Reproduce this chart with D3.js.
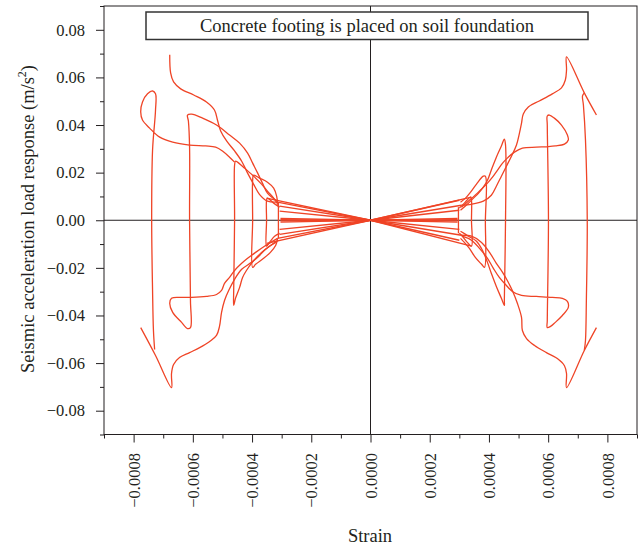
<!DOCTYPE html>
<html><head><meta charset="utf-8">
<script src="https://cdn.jsdelivr.net/npm/d3@7"></script>
<style>
body{margin:0;background:#fff}
svg text{font-family:"Liberation Serif","Times New Roman",serif;fill:#231f20}
</style>
</head><body>
<svg id="c" width="639" height="545"></svg>
<script>
// ---- ticks ----
const xTicks = [-0.0008,-0.0006,-0.0004,-0.0002,0,0.0002,0.0004,0.0006,0.0008];
const xTickLabels = ["\u22120.0008","\u22120.0006","\u22120.0004","\u22120.0002","0.0000","0.0002","0.0004","0.0006","0.0008"];
const xMinor = [-0.0009,-0.0007,-0.0005,-0.0003,-0.0001,0.0001,0.0003,0.0005,0.0007,0.0009];
const yTicks = [0.08,0.06,0.04,0.02,0,-0.02,-0.04,-0.06,-0.08];
const yTickLabels = ["0.08","0.06","0.04","0.02","0.00","\u22120.02","\u22120.04","\u22120.06","\u22120.08"];
const yMinor = [0.09,0.07,0.05,0.03,0.01,-0.01,-0.03,-0.05,-0.07,-0.09];

// ---- data: [strain, acceleration] ----
const leftFree = [[-0.000678,0.0695],[-0.000675,0.0619],[-0.000665,0.0581],[-0.000641,0.0552],[-0.000597,0.0526],[-0.000554,0.0497],[-0.000527,0.0463],[-0.000516,0.0417],[-0.000506,0.0375],[-0.000486,0.0333],[-0.000459,0.0291],[-0.000435,0.0248],[-0.000415,0.0198],[-0.000395,0.0152],[-0.000375,0.0109],[-0.000348,0.0080],[-0.000314,0.0076]];
const leftOuterTop = [[-0.000459,0.0244],[-0.000476,0.0265],[-0.000500,0.0291],[-0.000523,0.0307],[-0.000557,0.0312],[-0.000611,0.0316],[-0.000668,0.0328],[-0.000712,0.0349],[-0.000746,0.0387],[-0.000770,0.0421],[-0.000776,0.0455],[-0.000770,0.0497],[-0.000753,0.0531],[-0.000736,0.0543],[-0.000726,0.0531],[-0.000726,0.0463],[-0.000736,0.0295],[-0.000739,0],[-0.000736,-0.0295],[-0.000733,-0.0463],[-0.000729,-0.0543]];
const leftOuterBottom = [[-0.000776,-0.0451],[-0.000726,-0.0568],[-0.000672,-0.0703],[-0.000672,-0.0644],[-0.000665,-0.0606],[-0.000645,-0.0577],[-0.000611,-0.0556],[-0.000577,-0.0535],[-0.000543,-0.0509],[-0.000520,-0.0484],[-0.000510,-0.0446],[-0.000503,-0.0387],[-0.000493,-0.0337],[-0.000479,-0.0295],[-0.000459,-0.0248],[-0.000435,-0.0206],[-0.000402,-0.0177],[-0.000378,-0.0152],[-0.000354,-0.0122],[-0.000327,-0.0097],[-0.000311,-0.0084]];
const leftLoopB = [[-0.000314,0.0080],[-0.000348,0.0114],[-0.000365,0.0156],[-0.000381,0.0198],[-0.000398,0.0240],[-0.000415,0.0282],[-0.000442,0.0324],[-0.000476,0.0358],[-0.000520,0.0400],[-0.000567,0.0429],[-0.000604,0.0446],[-0.000618,0.0442],[-0.000615,0.0417],[-0.000611,0.0307],[-0.000611,0],[-0.000608,-0.0337],[-0.000608,-0.0451],[-0.000618,-0.0455],[-0.000638,-0.0429],[-0.000668,-0.0387],[-0.000678,-0.0349],[-0.000672,-0.0328],[-0.000645,-0.0324],[-0.000604,-0.0324],[-0.000554,-0.0320],[-0.000520,-0.0312],[-0.000503,-0.0295],[-0.000493,-0.0265],[-0.000476,-0.0240],[-0.000459,-0.0211],[-0.000435,-0.0181],[-0.000415,-0.0160],[-0.000388,-0.0135],[-0.000358,-0.0109],[-0.000314,-0.0076]];
const leftLoopC = [[-0.000311,0.0063],[-0.000327,0.0093],[-0.000348,0.0122],[-0.000368,0.0152],[-0.000398,0.0189],[-0.000429,0.0223],[-0.000449,0.0244],[-0.000456,0.0248],[-0.000459,0.0232],[-0.000459,0],[-0.000462,-0.0295],[-0.000462,-0.0358],[-0.000456,-0.0328],[-0.000442,-0.0282],[-0.000432,-0.0240],[-0.000419,-0.0211],[-0.000402,-0.0181],[-0.000368,-0.0135],[-0.000341,-0.0109],[-0.000320,-0.0093]];
const leftLoopD = [[-0.000314,0.0072],[-0.000317,0.0101],[-0.000327,0.0135],[-0.000348,0.0160],[-0.000375,0.0177],[-0.000395,0.0189],[-0.000398,0.0168],[-0.000398,0],[-0.000398,-0.0198],[-0.000388,-0.0185],[-0.000361,-0.0160],[-0.000338,-0.0135],[-0.000320,-0.0105],[-0.000314,-0.0076]];
const leftLoopE = [[-0.000307,0.0055],[-0.000327,0.0072],[-0.000348,0.0093],[-0.000351,0.0084],[-0.000351,0],[-0.000351,-0.0109],[-0.000341,-0.0093],[-0.000324,-0.0067],[-0.000307,-0.0055]];
const leftLoopF = [[-0.000311,0.0076],[-0.000311,0],[-0.000311,-0.0076]];
const leftFanEnds = [[-0.000351,0.0093],[-0.000314,0.0076],[-0.000307,0.0059],[-0.000307,0.0038],[-0.000304,0.0008],[-0.000304,0.0003],[-0.000304,-0.0003],[-0.000304,-0.0008],[-0.000307,-0.0038],[-0.000307,-0.0059],[-0.000314,-0.0076],[-0.000351,-0.0097]];

const rightOuterTop = [[0.000763,0.0442],[0.000722,0.0535],[0.000662,0.0686],[0.000662,0.0632],[0.000658,0.0589],[0.000645,0.0556],[0.000614,0.0531],[0.000570,0.0501],[0.000533,0.0476],[0.000516,0.0446],[0.000510,0.0408],[0.000503,0.0366],[0.000493,0.0316],[0.000476,0.0269],[0.000459,0.0227],[0.000442,0.0185],[0.000425,0.0143],[0.000408,0.0105],[0.000381,0.0080],[0.000341,0.0067],[0.000307,0.0063]];
const rightOuterVert = [[0.000722,0.0535],[0.000716,0.0522],[0.000719,0.0484],[0.000726,0.0337],[0.000732,0],[0.000729,-0.0337],[0.000726,-0.0505],[0.000722,-0.0547]];
const rightOuterBottom = [[0.000763,-0.0451],[0.000722,-0.0547],[0.000662,-0.0703],[0.000662,-0.0644],[0.000655,-0.0611],[0.000631,-0.0581],[0.000594,-0.0556],[0.000554,-0.0526],[0.000527,-0.0497],[0.000513,-0.0463],[0.000510,-0.0408],[0.000496,-0.0349],[0.000479,-0.0295],[0.000462,-0.0253],[0.000446,-0.0219],[0.000425,-0.0181],[0.000402,-0.0135],[0.000375,-0.0093],[0.000341,-0.0067],[0.000307,-0.0063]];
const rightLoopB = [[0.000307,0.0055],[0.000334,0.0084],[0.000361,0.0114],[0.000378,0.0135],[0.000395,0.0156],[0.000412,0.0181],[0.000429,0.0211],[0.000446,0.0240],[0.000462,0.0261],[0.000486,0.0286],[0.000513,0.0303],[0.000560,0.0307],[0.000597,0.0309],[0.000624,0.0312],[0.000655,0.0320],[0.000668,0.0337],[0.000665,0.0358],[0.000645,0.0400],[0.000621,0.0429],[0.000604,0.0442],[0.000597,0.0438],[0.000597,0.0400],[0.000601,0],[0.000597,-0.0421],[0.000597,-0.0451],[0.000608,-0.0446],[0.000624,-0.0429],[0.000648,-0.0400],[0.000668,-0.0366],[0.000665,-0.0341],[0.000648,-0.0328],[0.000614,-0.0324],[0.000560,-0.0320],[0.000510,-0.0316],[0.000479,-0.0299],[0.000459,-0.0274],[0.000435,-0.0240],[0.000415,-0.0202],[0.000395,-0.0160],[0.000368,-0.0118],[0.000341,-0.0084],[0.000310,-0.0067]];
const rightLoopC = [[0.000304,0.0042],[0.000327,0.0067],[0.000348,0.0093],[0.000365,0.0114],[0.000381,0.0139],[0.000395,0.0168],[0.000408,0.0211],[0.000425,0.0265],[0.000442,0.0312],[0.000452,0.0341],[0.000456,0.0316],[0.000456,0],[0.000452,-0.0337],[0.000452,-0.0358],[0.000442,-0.0328],[0.000425,-0.0278],[0.000408,-0.0223],[0.000395,-0.0177],[0.000378,-0.0126],[0.000358,-0.0088],[0.000331,-0.0067],[0.000304,-0.0046]];
const rightLoopD = [[0.000304,0.0076],[0.000321,0.0093],[0.000338,0.0118],[0.000358,0.0152],[0.000381,0.0185],[0.000388,0.0185],[0.000388,0],[0.000385,-0.0198],[0.000375,-0.0185],[0.000354,-0.0156],[0.000334,-0.0118],[0.000317,-0.0093],[0.000304,-0.0076]];
const rightLoopE = [[0.000300,0.0051],[0.000317,0.0072],[0.000338,0.0097],[0.000341,0.0084],[0.000341,0],[0.000341,-0.0109],[0.000327,-0.0093],[0.000310,-0.0067],[0.000300,-0.0055]];
const rightLoopF = [[0.000297,0.0055],[0.000297,0],[0.000297,-0.0055]];
const rightFanEnds = [[0.000341,0.0097],[0.000300,0.0084],[0.000307,0.0063],[0.000300,0.0042],[0.000294,0.0008],[0.000294,0.0003],[0.000294,-0.0003],[0.000294,-0.0008],[0.000300,-0.0038],[0.000307,-0.0063],[0.000300,-0.0084],[0.000341,-0.0109]];

const curves = [leftFree,leftOuterTop,leftOuterBottom,leftLoopB,leftLoopC,leftLoopD,leftLoopE,leftLoopF,
                rightOuterTop,rightOuterVert,rightOuterBottom,rightLoopB,rightLoopC,rightLoopD,rightLoopE,rightLoopF];

// ---- drawing ----
const FONT = '"Liberation Serif","Times New Roman",serif';
const INK = "#231f20";
const RED = "#ef4426";
const svg = d3.select("#c");
const L = 104, R = 637, T = 6, B = 434.5;
const x = d3.scaleLinear().domain([-0.0009,0.0009]).range([L,R]);
const y = d3.scaleLinear().domain([-0.09,0.09]).range([B,T]);

// axes
function styleAxis(g){ g.attr("font-family",FONT).attr("font-size",16.5).attr("color",INK); g.select(".domain").remove(); }
svg.append("g").attr("transform",`translate(0,${B})`)
  .call(d3.axisBottom(x).tickValues(xMinor).tickSize(4).tickFormat("")).call(styleAxis);
const gx = svg.append("g").attr("transform",`translate(0,${B})`)
  .call(d3.axisBottom(x).tickValues(xTicks).tickSize(8).tickFormat((d,i)=>xTickLabels[i])).call(styleAxis);
gx.selectAll("text").attr("transform","rotate(-90)").attr("text-anchor","end")
  .attr("x",-18.5).attr("y",0).attr("dy","0.34em");
svg.append("g").attr("transform",`translate(${L},0)`)
  .call(d3.axisLeft(y).tickValues(yMinor).tickSize(4).tickFormat("")).call(styleAxis);
svg.append("g").attr("transform",`translate(${L},0)`)
  .call(d3.axisLeft(y).tickValues(yTicks).tickSize(8).tickPadding(11).tickFormat((d,i)=>yTickLabels[i])).call(styleAxis);

// zero lines
svg.append("line").attr("x1",x(0)).attr("x2",x(0)).attr("y1",T).attr("y2",B).attr("stroke",INK).attr("stroke-width",1);
svg.append("line").attr("x1",L).attr("x2",R).attr("y1",y(0)).attr("y2",y(0)).attr("stroke",INK).attr("stroke-width",1);

// curves
const smooth = d3.line().x(d=>x(d[0])).y(d=>y(d[1])).curve(d3.curveCatmullRom.alpha(0.5));
const straight = d3.line().x(d=>x(d[0])).y(d=>y(d[1]));
const gc = svg.append("g").attr("fill","none").attr("stroke",RED).attr("stroke-width",1.3).attr("stroke-linejoin","round");
curves.forEach(c=>gc.append("path").attr("d",smooth(c)));
leftFanEnds.concat(rightFanEnds).forEach(e=>gc.append("path").attr("d",straight([[0,0],e])));

// frame
svg.append("rect").attr("x",L).attr("y",T).attr("width",R-L).attr("height",B-T)
  .attr("fill","none").attr("stroke",INK).attr("stroke-width",1);

// title box
svg.append("rect").attr("x",146).attr("y",12).attr("width",442).attr("height",27.5)
  .attr("fill","#fff").attr("stroke","#333").attr("stroke-width",1.5);
svg.append("text").attr("x",367).attr("y",31.5).attr("text-anchor","middle").attr("font-size",18.5)
  .text("Concrete footing is placed on soil foundation");

// axis titles
svg.append("text").attr("x",370).attr("y",542).attr("text-anchor","middle").attr("font-size",18.5).text("Strain");
const yt = svg.append("text").attr("transform","translate(34,219) rotate(-90)").attr("text-anchor","middle").attr("font-size",18.5);
yt.append("tspan").text("Seismic acceleration load response (m/s");
yt.append("tspan").attr("font-size",12).attr("dy",-8).text("2");
yt.append("tspan").attr("dy",8).text(")");
</script>
</body></html>
